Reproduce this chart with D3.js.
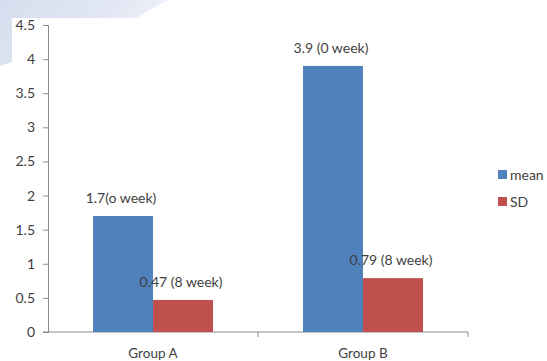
<!DOCTYPE html>
<html>
<head>
<meta charset="utf-8">
<script src="https://cdn.jsdelivr.net/npm/d3@7"></script>
<style>
  body { margin: 0; background: #fff; }
  text { font-family: Lato, "Open Sans", sans-serif; }
</style>
</head>
<body>
<div class="canvas"></div>
<script>
const groups = ['Group A', 'Group B']
const series = ['mean', 'SD']
const meanValues = [1.7, 3.9]
const sdValues = [0.47, 0.79]
const meanLabels = ['1.7(o week)', '3.9 (0 week)']
const sdLabels = ['0.47 (8 week)', '0.79 (8 week)']
const yTicks = [0, 0.5, 1, 1.5, 2, 2.5, 3, 3.5, 4, 4.5]
const colors = {mean: '#4F81BD', SD: '#C0504D'}

const width = 547, height = 361
const margin = {top: 25, left: 48, bottom: 29, right: 79}

const svg = d3.select('.canvas')
    .append('svg')
    .attr('width', width)
    .attr('height', height)

// faint slide background swoosh in the corner
const defs = svg.append('defs')
const grad = defs.append('linearGradient')
    .attr('id', 'bg')
    .attr('x1', 0).attr('y1', 0).attr('x2', 1).attr('y2', 0.3)
grad.append('stop').attr('offset', '0%').attr('stop-color', '#d6ddee')
grad.append('stop').attr('offset', '70%').attr('stop-color', '#e3e8f4')
grad.append('stop').attr('offset', '100%').attr('stop-color', '#f2f4fa')

svg.append('path')
    .attr('d', 'M0,0 L168,0 Q150,10 136,18 L12,18 L12,62 L0,66 Z')
    .attr('fill', 'url(#bg)')

const data = groups.map((g, i) => ({
    group: g,
    values: [
        {key: 'mean', value: meanValues[i], label: meanLabels[i]},
        {key: 'SD', value: sdValues[i], label: sdLabels[i]}
    ]
}))

const x0 = d3.scaleBand()
    .domain(groups)
    .range([margin.left, width - margin.right])

const x1 = d3.scaleBand()
    .domain(series)
    .range([0, x0.bandwidth()])
    .paddingOuter(0.75)

const y = d3.scaleLinear()
    .domain([0, 4.5])
    .range([height - margin.bottom, margin.top])

const axisColor = '#8c8c8c'
const textColor = '#3f3f3f'
const fontSize = 14

// y axis
const yAxisGroup = svg.append('g')
    .attr('transform', `translate(${margin.left}, 0)`)
    .call(d3.axisLeft(y).tickValues(yTicks).tickFormat(d3.format('')).tickSize(5).tickPadding(8))
yAxisGroup.selectAll('path, line').attr('stroke', axisColor)
yAxisGroup.selectAll('text')
    .attr('fill', textColor)
    .attr('font-size', fontSize)
    .attr('font-family', 'Lato, sans-serif')

// x axis
const xAxisGroup = svg.append('g')
    .attr('transform', `translate(0, ${y(0)})`)
xAxisGroup.append('line')
    .attr('x1', margin.left - 5)
    .attr('x2', width - margin.right)
    .attr('stroke', axisColor)
xAxisGroup.selectAll('.tick-mark')
    .data(groups)
    .enter()
    .append('line')
    .attr('x1', d => x0(d) + x0.bandwidth())
    .attr('x2', d => x0(d) + x0.bandwidth())
    .attr('y1', 0)
    .attr('y2', 5)
    .attr('stroke', axisColor)
xAxisGroup.selectAll('.xlabel')
    .data(groups)
    .enter()
    .append('text')
    .attr('x', d => x0(d) + x0.bandwidth() / 2)
    .attr('y', 26)
    .attr('text-anchor', 'middle')
    .attr('fill', textColor)
    .attr('font-size', 13.5)
    .text(d => d)

// bars
const groupG = svg.selectAll('.grp')
    .data(data)
    .enter()
    .append('g')
    .attr('transform', d => `translate(${x0(d.group)}, 0)`)

groupG.selectAll('rect')
    .data(d => d.values)
    .enter()
    .append('rect')
    .attr('x', d => x1(d.key))
    .attr('y', d => y(d.value))
    .attr('width', x1.bandwidth())
    .attr('height', d => y(0) - y(d.value))
    .attr('fill', d => colors[d.key])

groupG.selectAll('.lbl')
    .data(d => d.values)
    .enter()
    .append('text')
    .attr('x', d => x1(d.key) + x1.bandwidth() / 2 - 2)
    .attr('y', d => y(d.value) - 13)
    .attr('text-anchor', 'middle')
    .attr('fill', textColor)
    .attr('font-size', fontSize)
    .text(d => d.label)

// legend
series.forEach((s, i) => {
    const lg = svg.append('g')
        .attr('transform', `translate(498, ${170 + i * 27})`)
    lg.append('rect')
        .attr('width', 9)
        .attr('height', 9)
        .attr('fill', colors[s])
    lg.append('text')
        .attr('x', 12)
        .attr('y', 9.5)
        .attr('fill', textColor)
        .attr('font-size', fontSize)
        .text(s)
})
</script>
</body>
</html>
